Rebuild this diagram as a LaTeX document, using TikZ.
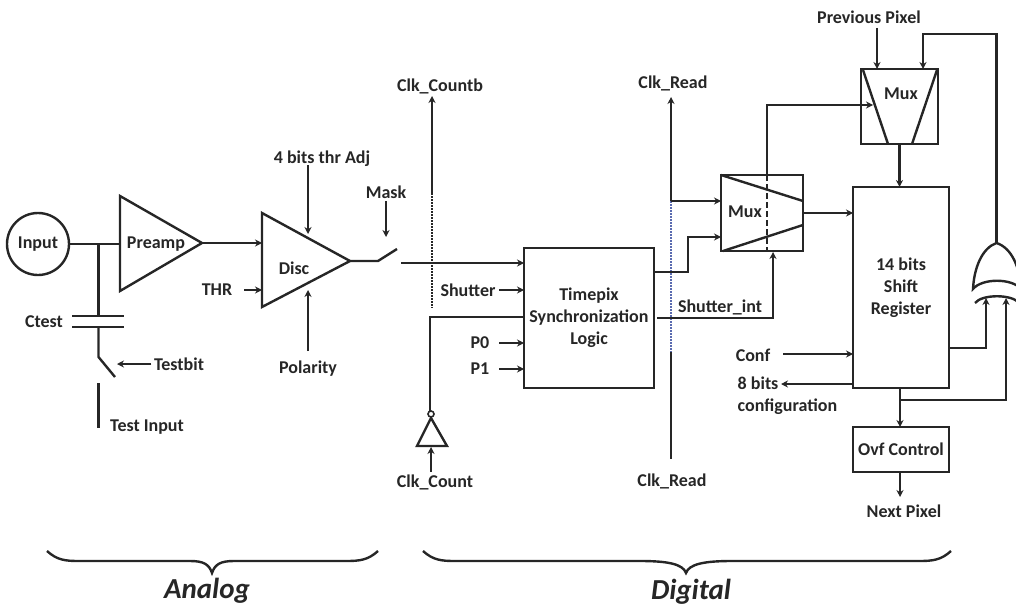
\documentclass[tikz,border=0pt]{standalone}
\usepackage{fontspec}
\setmainfont{Carlito}
\usetikzlibrary{arrows.meta, positioning, calc}
\definecolor{inkdark}{HTML}{262626}
\definecolor{dotblue}{HTML}{5A6BB0}

\begin{document}
\begin{tikzpicture}[x=1pt, y=-1pt,
    line width=2.4pt, color=inkdark, line join=miter,
    lbl/.style={font=\fontsize{18}{22}\selectfont\bfseries, text=inkdark, inner sep=1.5pt, align=center},
    blk/.style={draw, rectangle, inner sep=0pt, outer sep=0pt, align=center,
      font=\fontsize{18}{22}\selectfont\bfseries, text=inkdark},
    sig/.style={-{Stealth[length=7pt, width=7pt]}},
    wire/.style={-},
    dotline/.style={line width=2.6pt, dash pattern=on 1.6pt off 1.4pt},
    zone/.style={font=\fontsize{29}{32}\selectfont\bfseries\itshape, text=inkdark, inner sep=0pt}]

  \clip (0,0) rectangle (1016,607);

  %% Analog part
  \node[draw, circle, minimum size=62pt, inner sep=0pt, outer sep=0pt, lbl] (input) at (38,244) {Input};
  \draw (120,196) -- (202,243) -- (120,291) -- cycle;
  \node[lbl] (preamp) at (156,244) {Preamp};
  \coordinate (preampIn) at (120,244);
  \coordinate (preampOut) at (202,243);
  \coordinate (tap) at (98.5,244);
  \draw[wire] (input.east) -- (preampIn);

  %% Test branch
  \coordinate (capTop) at (98.5,316);
  \coordinate (capBot) at (98.5,327);
  \coordinate (swA) at (98.5,357);
  \coordinate (swB) at (115,377);
  \coordinate (testTop) at (98.5,383);
  \coordinate (testEnd) at (98.5,428);
  \draw[wire] (tap) -- (capTop);
  \draw[wire, line width=2.8pt] (72,316) -- (124,316);
  \draw[wire, line width=2.8pt] (72,327) -- (124,327);
  \draw[wire] (capBot) -- (swA) -- (swB);
  \draw[wire] (testTop) -- (testEnd);
  \node[lbl] (ctest) at (44,322) {Ctest};
  \node[lbl] (testbit) at (179,364) {Testbit};
  \node[lbl] (testin) at (147,427) {Test Input};
  \coordinate (swPoint) at (117,364);
  \draw[sig] (testbit.west) -- (swPoint);

  %% Discriminator
  \draw (262,213) -- (350,261) -- (262,307) -- cycle;
  \node[lbl] (disc) at (294,268) {Disc};
  \coordinate (discIn) at (262,243);
  \coordinate (discOut) at (350,261);
  \coordinate (discThr) at (262,290);
  \coordinate (discAdj) at (308,234);
  \coordinate (discPol) at (308,290);
  \draw[sig] (preampOut) -- (discIn);
  \node[lbl] (thr) at (217,290) {THR};
  \draw[sig] (244,290) -- (discThr);
  \node[lbl] (adj) at (322,159) {4 bits thr Adj};
  \draw[sig] (308,165) -- (discAdj);
  \node[lbl] (polarity) at (308,369) {Polarity};
  \draw[sig] (308,351) -- (discPol);

  %% Mask switch
  \node[lbl] (mask) at (386,192) {Mask};
  \coordinate (maskPoint) at (386,237);
  \draw[sig] (mask.south) -- (maskPoint);
  \draw[wire] (discOut) -- (378,261) -- (397,249);

  %% Synchronization logic
  \node[blk, minimum width=130pt, minimum height=140pt] (sync) at (589,318) {Timepix\\Synchronization\\Logic};
  \coordinate (maskOut) at (401,263);
  \draw[sig] (maskOut) -- (sync.west |- maskOut);
  \foreach \nm/\y in {shutter/290, pzero/343, pone/369}{
    \coordinate (\nm Start) at (499,\y);
    \draw[sig] (\nm Start) -- (sync.west |- \nm Start);
  }
  \node[lbl] (shutter) at (468,290) {Shutter};
  \node[lbl] (pzero) at (480,343) {P0};
  \node[lbl] (pone) at (480,369) {P1};

  %% Clock count
  \node[lbl] (clkcountb) at (440,86) {Clk\_Countb};
  \node[lbl] (clkcount) at (435,482) {Clk\_Count};
  \coordinate (cbDot) at (432,193);
  \coordinate (cbEnd) at (432,308);
  \draw[sig] (cbDot) -- (432,96);
  \draw[dotline] (cbDot) -- (cbEnd);
  \draw (431,418) -- (417,446) -- (447,446) -- cycle;
  \node[draw, circle, minimum size=6pt, inner sep=0pt, outer sep=0pt, line width=1.6pt, fill=white] (bubble) at (431,414) {};
  \coordinate (clkIn) at (431,447);
  \draw[sig] (clkcount.north -| clkIn) -- (clkIn);
  \draw[wire] (bubble.north -| 430,0) -- (430,317) -- (sync.west |- 0,317);

  %% Clock read
  \node[lbl] (clkreadtop) at (673,83) {Clk\_Read};
  \node[lbl] (clkreadbot) at (672,481) {Clk\_Read};
  \coordinate (crTurn) at (671,201);
  \coordinate (crLow) at (671,352);
  \draw[dotline, color=dotblue] (crTurn) -- (crLow);
  \draw[sig] (crTurn) -- (671,97);
  \draw[wire] (crLow) -- (671,459);

  %% First mux
  \node[blk, minimum width=82pt, minimum height=76pt] (muxa) at (762,213) {};
  \node[lbl] (muxalbl) at (745,212) {Mux};
  \draw[wire] (muxa.north west) -- (muxa.east |- 0,201);
  \draw[wire] (723,251) -- (muxa.east |- 0,225);
  \draw[wire, dash pattern=on 6pt off 3pt] (767,175) -- (767,251);
  \draw[sig] (crTurn) -- (muxa.west |- crTurn);
  \coordinate (syncOut) at (sync.east |- 0,272);
  \coordinate (muxaIn) at (muxa.west |- 0,237);
  \draw[sig] (syncOut) -| (688,237) -- (muxaIn);
  \coordinate (siStart) at (657,318);
  \draw[sig] (siStart) -- (773,318) -- (773,252);
  \node[lbl] (shutterint) at (720,307) {Shutter\_int};

  %% Second mux
  \node[blk, minimum width=77pt, minimum height=75pt] (muxb) at (899.5,106.5) {};
  \node[lbl] (muxblbl) at (901,94) {Mux};
  \draw[wire] (863,70) -- (888,144);
  \draw[wire] (937,70) -- (912,144);
  \coordinate (muxaUp) at (767,175);
  \coordinate (muxbIn) at (873,105);
  \draw[sig] (muxaUp) |- (muxbIn);
  \node[lbl] (prev) at (869,17) {Previous Pixel};
  \coordinate (prevIn) at (877,69);
  \draw[sig] (877,28) -- (prevIn);

  %% Shift register
  \node[blk, minimum width=96pt, minimum height=201pt] (shift) at (901,287.5) {14 bits\\Shift\\Register};
  \draw[sig] (muxb.south) -- (muxb.south |- shift.north);
  \draw[sig] (muxa.east) -- (shift.west |- muxa.east);
  \node[lbl] (conf) at (753,355) {Conf};
  \coordinate (confStart) at (783,354);
  \draw[sig] (confStart) -- (shift.west |- confStart);
  \node[lbl, align=left, anchor=north west] (cfg) at (735,374) {8 bits\\configuration};
  \coordinate (cfgEnd) at (781,384);
  \draw[sig] (shift.west |- cfgEnd) -- (cfgEnd);

  %% Overflow
  \node[blk, minimum width=96pt, minimum height=45pt] (ovf) at (901,449.5) {Ovf Control};
  \draw[sig] (shift.south -| 900,0) -- (900,427);
  \node[lbl] (next) at (904,511) {Next  Pixel};
  \draw[sig] (900,472) -- (900,497);

  %% Gate
  \coordinate (gateTop) at (996.5,243);
  \draw (gateTop) .. controls (982,248) and (974,268) .. (973,289)
    .. controls (982,278) and (1012,278) .. (1021,289)
    .. controls (1020,268) and (1012,248) .. (gateTop);
  \draw (975,303) .. controls (982,294) and (1012,294) .. (1019,303);
  \coordinate (gateInA) at (986,298);
  \coordinate (gateInB) at (1006,298);
  \coordinate (fbIn) at (923,69);
  \draw[sig] (shift.east |- 0,348) -| (gateInA);
  \draw[sig] (900,400) -| (gateInB);
  \draw[sig] (gateTop) -- (996.5,34) -| (fbIn);

  %% Zones
  \foreach \xa/\xt/\xb/\w in {47/212/378/22, 423/686/951/46}{
    \draw (\xa,551) .. controls ($(\xa,551)+(10,9)$) and ($(\xa,551)+(18,10)$) .. ($(\xa,561)+(32,0)$)
      -- ($(\xt,561)+(-\w,0)$) .. controls ($(\xt,561)+(-0.4*\w,0)$) and ($(\xt,561)+(-3,3)$) .. (\xt,573)
      .. controls ($(\xt,561)+(3,3)$) and ($(\xt,561)+(0.4*\w,0)$) .. ($(\xt,561)+(\w,0)$)
      -- ($(\xb,561)+(-32,0)$) .. controls ($(\xb,551)+(-18,10)$) and ($(\xb,551)+(-10,9)$) .. (\xb,551);
  }
  \node[zone] (analog) at (207,591) {Analog};
  \node[zone] (digital) at (691,592) {Digital};

\end{tikzpicture}
\end{document}
